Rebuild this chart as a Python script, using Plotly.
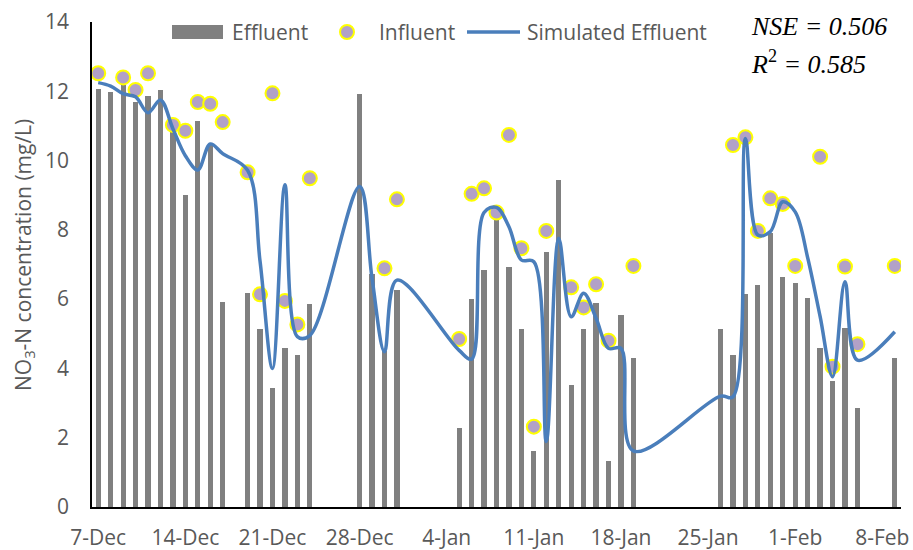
import plotly.graph_objects as go
import pandas as pd

YEAR_DEC = 2018
YEAR_JAN = 2019

def to_date(md):
    m, d = md.split("-")
    y = YEAR_DEC if m == "12" else YEAR_JAN
    return f"{y}-{m}-{d}"

# Effluent (bars)
eff_dates = ["12-07", "12-08", "12-09", "12-10", "12-11", "12-12", "12-13", "12-14", "12-15", "12-16", "12-17",
             "12-19", "12-20", "12-21", "12-22", "12-23", "12-24",
             "12-28", "12-29", "12-30", "12-31",
             "01-05", "01-06", "01-07", "01-08", "01-09", "01-10", "01-11", "01-12", "01-13", "01-14",
             "01-15", "01-16", "01-17", "01-18", "01-19",
             "01-26", "01-27", "01-28", "01-29", "01-30", "01-31", "02-01", "02-02", "02-03", "02-04",
             "02-05", "02-06", "02-09"]
eff_vals = [12.06, 11.97, 12.18, 11.69, 11.86, 12.03, 11.0, 9.0, 11.14, 10.45, 5.93,
            6.17, 5.14, 3.44, 4.59, 4.39, 5.85,
            11.93, 6.72, 4.5, 6.25,
            2.27, 6.0, 6.84, 8.3, 6.92, 5.13, 1.62, 7.37, 9.44, 3.52,
            5.13, 5.88, 1.33, 5.54, 4.29,
            5.13, 4.38, 6.14, 6.41, 7.9, 6.63, 6.46, 6.04, 4.59, 3.65,
            5.18, 2.85, 4.29]

# Influent (markers)
inf_dates = ["12-07", "12-09", "12-10", "12-11", "12-13", "12-14", "12-15", "12-16", "12-17",
             "12-19", "12-20", "12-21", "12-22", "12-23", "12-24",
             "12-30", "12-31",
             "01-05", "01-06", "01-07", "01-08", "01-09", "01-10", "01-11", "01-12",
             "01-14", "01-15", "01-16", "01-17", "01-19",
             "01-27", "01-28", "01-29", "01-30", "01-31", "02-01", "02-03", "02-04", "02-05", "02-06",
             "02-09"]
inf_vals = [12.52, 12.40, 12.04, 12.52, 11.03, 10.86, 11.69, 11.64, 11.11,
            9.66, 6.14, 11.94, 5.95, 5.27, 9.49,
            6.89, 8.88,
            4.85, 9.04, 9.2, 8.5, 10.74, 7.47, 2.32, 7.97,
            6.34, 5.76, 6.43, 4.8, 6.96,
            10.45, 10.67, 7.97, 8.91, 8.75, 6.96, 10.11, 4.05, 6.94, 4.7,
            6.96]

# Simulated effluent (smoothed line)
sim_dates = ["12-07", "12-08", "12-09", "12-10", "12-11", "12-12", "12-13", "12-14", "12-15", "12-16", "12-17",
             "12-19", "12-20", "12-21", "12-22", "12-23", "12-24",
             "12-28", "12-29", "12-30", "12-31",
             "01-05", "01-06", "01-07", "01-08", "01-09", "01-10", "01-11", "01-12", "01-13", "01-14",
             "01-15", "01-16", "01-17", "01-18", "01-19",
             "01-26", "01-27", "01-28", "01-29", "01-30", "01-31", "02-01", "02-02", "02-03", "02-04",
             "02-05", "02-06", "02-09"]
sim_vals = [12.25, 12.15, 11.93, 11.84, 11.38, 11.75, 10.92, 10.14, 9.73, 10.48, 10.2,
            9.72, 7.1, 4.0, 9.3, 4.92, 4.95,
            9.25, 6.6, 4.48, 6.55,
            4.52, 4.27, 8.5, 8.65, 8.09, 7.13, 7.08, 1.89, 7.76, 5.49,
            6.17, 5.45, 4.58, 4.58, 1.62,
            3.2, 3.18, 10.64, 7.85, 7.95, 8.81, 8.52, 7.2, 5.5, 3.76,
            6.5, 4.24, 5.06]

tick_dates = ["12-07", "12-14", "12-21", "12-28", "01-04", "01-11", "01-18", "01-25", "02-01", "02-08"]
tick_labels = ["7-Dec", "14-Dec", "21-Dec", "28-Dec", "4-Jan", "11-Jan", "18-Jan", "25-Jan", "1-Feb", "8-Feb"]

legend_labels = ["Effluent", "Influent", "Simulated Effluent"]

FONT = "Open Sans"
GRAY_TXT = "#595959"
BAR_COLOR = "#808080"
MK_FILL = "#B2A1C7"
MK_EDGE = "#FFFF00"
LINE_COLOR = "#4A7EBB"
DAY_MS = 86400000

W, H = 913, 550
ML, MR, MT, MB = 92, 12, 22, 43
PW, PH = W - ML - MR, H - MT - MB

def px(x):
    return (x - ML) / PW

def py(y):
    return 1 - (y - MT) / PH

fig = go.Figure()
fig.add_trace(go.Bar(
    x=[to_date(d) for d in eff_dates], y=eff_vals, name=legend_labels[0],
    marker=dict(color=BAR_COLOR, line=dict(width=0)),
    width=0.42 * DAY_MS,
))
fig.add_trace(go.Scatter(
    x=[to_date(d) for d in inf_dates], y=inf_vals, name=legend_labels[1], mode="markers",
    marker=dict(size=14, color=MK_FILL, line=dict(color=MK_EDGE, width=2)),
))
fig.add_trace(go.Scatter(
    x=[to_date(d) for d in sim_dates], y=sim_vals, name=legend_labels[2], mode="lines",
    line=dict(color=LINE_COLOR, width=3.5, shape="spline", smoothing=1.0),
))

x0 = pd.Timestamp(to_date("12-07")) - pd.Timedelta(hours=12)
x1 = pd.Timestamp(to_date("02-09")) + pd.Timedelta(hours=12)

# manual legend (Excel style)
LEG_Y = 32
shapes = [
    dict(type="rect", xref="paper", yref="paper", x0=px(172), x1=px(223), y0=py(39), y1=py(25),
         fillcolor=BAR_COLOR, line=dict(width=0)),
    dict(type="circle", xref="paper", yref="paper", x0=px(340), x1=px(354), y0=py(LEG_Y + 7), y1=py(LEG_Y - 7),
         fillcolor=MK_FILL, line=dict(color=MK_EDGE, width=2)),
    dict(type="line", xref="paper", yref="paper", x0=px(467), x1=px(520), y0=py(LEG_Y), y1=py(LEG_Y),
         line=dict(color=LINE_COLOR, width=3.5)),
]
legend_text_x = [230, 377, 525]
annotations = [
    dict(text=t, xref="paper", yref="paper", x=px(lx), y=py(LEG_Y), xanchor="left", yanchor="middle",
         showarrow=False, font=dict(family=FONT, size=21, color=GRAY_TXT))
    for t, lx in zip(legend_labels, legend_text_x)
]
annotations += [
    dict(text="NO<sub>3</sub>-N concentration (mg/L)", textangle=-90,
         xref="paper", yref="paper", x=px(24), y=py(255), xanchor="center", yanchor="middle",
         showarrow=False, font=dict(family=FONT, size=21, color=GRAY_TXT)),
    dict(text="<i>NSE = 0.506</i>", xref="paper", yref="paper",
         x=px(749), y=py(27), xanchor="left", yanchor="middle", showarrow=False,
         font=dict(family="Liberation Serif", size=26, color="black")),
    dict(text="<i>R</i><sup>2</sup><i> = 0.585</i>", xref="paper", yref="paper",
         x=px(749), y=py(62), xanchor="left", yanchor="middle", showarrow=False,
         font=dict(family="Liberation Serif", size=26, color="black")),
]

fig.update_layout(
    width=W, height=H,
    margin=dict(l=ML, r=MR, t=MT, b=MB, autoexpand=False),
    paper_bgcolor="white", plot_bgcolor="white",
    font=dict(family=FONT, size=21, color=GRAY_TXT),
    bargap=0,
    showlegend=False,
    xaxis=dict(
        type="date", range=[x0, x1], automargin=False,
        tickvals=[to_date(d) for d in tick_dates], ticktext=tick_labels,
        showgrid=False, zeroline=False, showline=True, linecolor="black", linewidth=1.5,
        ticks="", ticklabelstandoff=11,
        tickfont=dict(family=FONT, size=21, color=GRAY_TXT),
    ),
    yaxis=dict(
        range=[0, 14], tickvals=[0, 2, 4, 6, 8, 10, 12, 14], automargin=False,
        showgrid=False, zeroline=False, showline=True, linecolor="black", linewidth=1.5,
        ticks="", ticklabelstandoff=17,
        tickfont=dict(family=FONT, size=21, color=GRAY_TXT),
    ),
    shapes=shapes,
    annotations=annotations,
)

fig.write_html("out.html")
